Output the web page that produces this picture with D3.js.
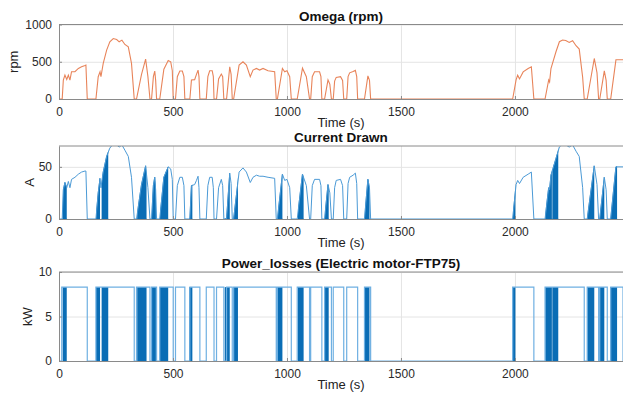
<!DOCTYPE html>
<html>
<head>
    <title>Electric motor FTP75</title>
    <style>
        body { margin: 0; background: #fff; }
        svg { display: block; font-family: "Liberation Sans", Arial, sans-serif; }
        .tick text { font-size: 12px; fill: #2a2a2a; }
        .grid line { stroke: #e4e4e4; }
        .grid path { display: none; }
        .title { font-size: 13.5px; font-weight: bold; fill: #111; }
        .lbl { font-size: 13px; fill: #222; }
    </style>
</head>
<body>
    <div id="chart"></div>
    <script src="https://d3js.org/d3.v7.min.js"></script>
    <script>
        // samples, one line per driving segment (time in s)
        const timeS = [
            0, 14, 19, 26, 34, 41, 48, 55, 70, 85, 99, 114, 118, 124,
            162, 172, 180, 184, 194, 209, 223, 238, 253, 264, 276, 289, 304, 318, 330,
            340, 362, 380, 390, 399,
            406, 414, 420, 424, 428,
            442, 460, 479, 490, 497, 501,
            511, 519, 530, 541, 548, 552,
            574, 581, 595, 603, 610, 614, 618,
            646, 653, 661, 672, 677, 680,
            691, 700, 712, 718, 723,
            735, 749, 755, 760,
            766, 790, 807, 822, 839, 851, 866, 880, 895, 917, 946, 953,
            958, 980, 990, 1000, 1012, 1019,
            1045, 1068, 1085, 1099,
            1104, 1111, 1121, 1143, 1149, 1153,
            1165, 1180, 1188, 1195,
            1203, 1209, 1216, 1235, 1244, 1249,
            1262, 1268, 1275, 1290, 1300, 1306, 1310,
            1340, 1355, 1362, 1367,
            1990, 2005, 2012, 2020, 2036, 2058, 2072, 2083,
            2132, 2148, 2152, 2158, 2180, 2195, 2209, 2223, 2238, 2253, 2268, 2282, 2297, 2304,
            2317, 2348, 2360, 2367,
            2372, 2392, 2400, 2405,
            2420, 2443, 2474];
        const omegaRpm = [
            0, 0, 254, 321, 263, 321, 254, 366, 366, 410, 433, 450, 455, 0,
            0, 299, 366, 299, 478, 656, 768, 812, 799, 768, 790, 732, 700, 478, 0,
            0, 330, 536, 300, 0,
            0, 300, 375, 250, 0,
            0, 400, 518, 500, 380, 0,
            0, 300, 375, 375, 300, 0,
            0, 254, 260, 330, 388, 300, 0,
            0, 300, 379, 379, 300, 0,
            0, 270, 335, 300, 0,
            0, 433, 330, 0,
            0, 455, 500, 455, 299, 388, 410, 388, 410, 379, 366, 0,
            0, 410, 366, 379, 300, 0,
            0, 414, 300, 0,
            0, 300, 365, 365, 300, 0,
            0, 256, 200, 0,
            0, 240, 290, 300, 250, 0,
            0, 300, 351, 370, 384, 300, 0,
            0, 310, 250, 0,
            0, 256, 320, 270, 364, 409, 432, 0,
            0, 256, 230, 409, 634, 769, 792, 785, 760, 783, 715, 670, 292, 0,
            0, 544, 350, 0,
            0, 378, 250, 0,
            0, 526, 526];
        const currentA = [
            0, 0, 28, 35, 30, 36, 30, 38, 40, 43, 45, 46, 46, 0,
            0, 25, 39, 30, 45, 60, 68, 72, 71, 69, 71, 66, 60, 40, 0,
            0, 33, 51, 30, 0,
            0, 32, 40, 28, 0,
            0, 40, 50, 48, 38, 0,
            0, 32, 40, 40, 32, 0,
            0, 32, 33, 37, 41, 30, 0,
            0, 32, 40, 40, 30, 0,
            0, 30, 38, 32, 0,
            0, 44, 34, 0,
            0, 45, 49, 45, 35, 40, 42, 41, 41, 40, 39, 0,
            0, 43, 37, 38, 30, 0,
            0, 43, 32, 0,
            0, 32, 38, 38, 32, 0,
            0, 33, 25, 0,
            0, 30, 37, 38, 32, 0,
            0, 34, 40, 42, 44, 34, 0,
            0, 38, 30, 0,
            0, 33, 37, 34, 40, 43, 45, 0,
            0, 30, 28, 42, 58, 69, 72, 71, 69, 71, 65, 60, 30, 0,
            0, 51, 33, 0,
            0, 40, 28, 0,
            0, 50, 50];
        // motor on intervals [start, end] s, and switching bursts [start, end] s
        const powerOn = [[12, 124], [162, 330], [340, 399], [406, 428], [442, 501], [511, 552],
            [574, 618], [646, 680], [691, 723], [735, 760], [766, 953], [958, 1019],
            [1045, 1099], [1104, 1153], [1165, 1195], [1203, 1249], [1262, 1310], [1340, 1367],
            [1990, 2083], [2132, 2304], [2317, 2367], [2372, 2405], [2420, 2474]];
        const pwmBursts = [[16, 34], [162, 180], [187, 216], [343, 384], [406, 425], [442, 479],
            [571, 585], [727, 749], [763, 785], [958, 980], [1048, 1073], [1165, 1183],
            [1340, 1362], [1990, 2002], [2133, 2162], [2164, 2190], [2317, 2348],
            [2370, 2392], [2418, 2448]];
        const powerLevel = 8.3;
        const xTicks = [0, 500, 1000, 1500, 2000];

        const W = 623, H = 394;
        const left = 59, right = 623;

        const svg = d3.select("#chart").append("svg")
            .attr("width", W).attr("height", H);

        const x = d3.scaleLinear().domain([0, 2474]).range([left, right]);
        const fmt = d3.format("d");

        const panels = [
            { top: 24.5, bottom: 99, max: 1000, ticks: [0, 500, 1000], title: "Omega (rpm)", ylab: "rpm", ylx: 13 },
            { top: 146, bottom: 219, max: 70, ticks: [0, 50], title: "Current Drawn", ylab: "A", ylx: 29 },
            { top: 272, bottom: 361, max: 10, ticks: [0, 5, 10], title: "Power_losses (Electric motor-FTP75)", ylab: "kW", ylx: 27 }
        ];

        panels.forEach((p, i) => {
            p.y = d3.scaleLinear().domain([0, p.max]).range([p.bottom, p.top]);
            const g = svg.append("g");

            // grid
            g.append("g").attr("class", "grid")
                .attr("transform", `translate(0,${p.bottom})`)
                .call(d3.axisBottom(x).tickValues(xTicks).tickSize(-(p.bottom - p.top)).tickFormat(""));
            g.append("g").attr("class", "grid")
                .attr("transform", `translate(${left},0)`)
                .call(d3.axisLeft(p.y).tickValues(p.ticks).tickSize(-(right - left)).tickFormat(""));

            g.append("clipPath").attr("id", "clip" + i)
                .append("rect").attr("x", left).attr("y", p.top)
                .attr("width", right - left).attr("height", p.bottom - p.top);
            p.plot = g.append("g").attr("clip-path", `url(#clip${i})`);

            // axes
            const xa = g.append("g").attr("transform", `translate(0,${p.bottom})`)
                .call(d3.axisBottom(x).tickValues(xTicks).tickFormat(fmt)
                    .tickSizeInner(-3).tickSizeOuter(0).tickPadding(8));
            const ya = g.append("g").attr("transform", `translate(${left},0)`)
                .call(d3.axisLeft(p.y).tickValues(p.ticks).tickFormat(fmt)
                    .tickSizeInner(-3).tickSizeOuter(0).tickPadding(7));
            [xa, ya].forEach(a => {
                a.select(".domain").attr("stroke", "#8a8a8a");
                a.selectAll(".tick line").attr("stroke", "#8a8a8a");
            });
            g.append("line").attr("x1", left).attr("x2", right)
                .attr("y1", p.top).attr("y2", p.top).attr("stroke", "#8a8a8a");

            g.append("text").attr("class", "title")
                .attr("x", (left + right) / 2).attr("y", p.top - 4)
                .attr("text-anchor", "middle").text(p.title);
            g.append("text").attr("class", "lbl")
                .attr("x", (left + right) / 2).attr("y", p.bottom + 28)
                .attr("text-anchor", "middle").text("Time (s)");
            g.append("text").attr("class", "lbl")
                .attr("transform", `translate(${p.ylx},${(p.top + p.bottom) / 2}) rotate(-90)`)
                .attr("text-anchor", "middle").attr("dy", "0.35em").text(p.ylab);
        });

        const idx = d3.range(timeS.length);

        // Omega
        panels[0].plot.append("path")
            .datum(idx)
            .attr("fill", "none").attr("stroke", "#e8845a").attr("stroke-width", 1.1)
            .attr("d", d3.line().x(i => x(timeS[i])).y(i => panels[0].y(omegaRpm[i])));

        // Current: switching bursts drawn as filled regions
        const cy = panels[1].y;
        const burstClip = svg.append("clipPath").attr("id", "bursts");
        burstClip.selectAll("rect").data(pwmBursts).enter().append("rect")
            .attr("x", d => x(d[0])).attr("width", d => x(d[1]) - x(d[0]))
            .attr("y", cy(70)).attr("height", cy(0) - cy(70));
        panels[1].plot.append("path")
            .datum(idx)
            .attr("clip-path", "url(#bursts)")
            .attr("fill", "#0a6db5").attr("stroke", "#0a6db5").attr("stroke-width", 0.8)
            .attr("d", d3.area().x(i => x(timeS[i])).y0(cy(0)).y1(i => cy(currentA[i])));
        panels[1].plot.append("path")
            .datum(idx)
            .attr("fill", "none").attr("stroke", "#4b9ad6").attr("stroke-width", 1)
            .attr("d", d3.line().x(i => x(timeS[i])).y(i => cy(currentA[i])));

        // Power losses
        const py = panels[2].y;
        const steps = [[0, 0]];
        powerOn.forEach(d => {
            steps.push([d[0], 0], [d[0], powerLevel], [d[1], powerLevel], [d[1], 0]);
        });
        steps.push([2474, 0]);
        panels[2].plot.selectAll("rect.burst").data(pwmBursts).enter().append("rect")
            .attr("class", "burst")
            .attr("x", d => x(d[0])).attr("width", d => x(d[1]) - x(d[0]))
            .attr("y", py(powerLevel)).attr("height", py(0) - py(powerLevel))
            .attr("fill", "#0a6db5");
        panels[2].plot.append("path")
            .datum(steps)
            .attr("fill", "none").attr("stroke", "#6fb0e2").attr("stroke-width", 1.2)
            .attr("d", d3.line().x(d => x(d[0])).y(d => py(d[1])));
    </script>
</body>
</html>
